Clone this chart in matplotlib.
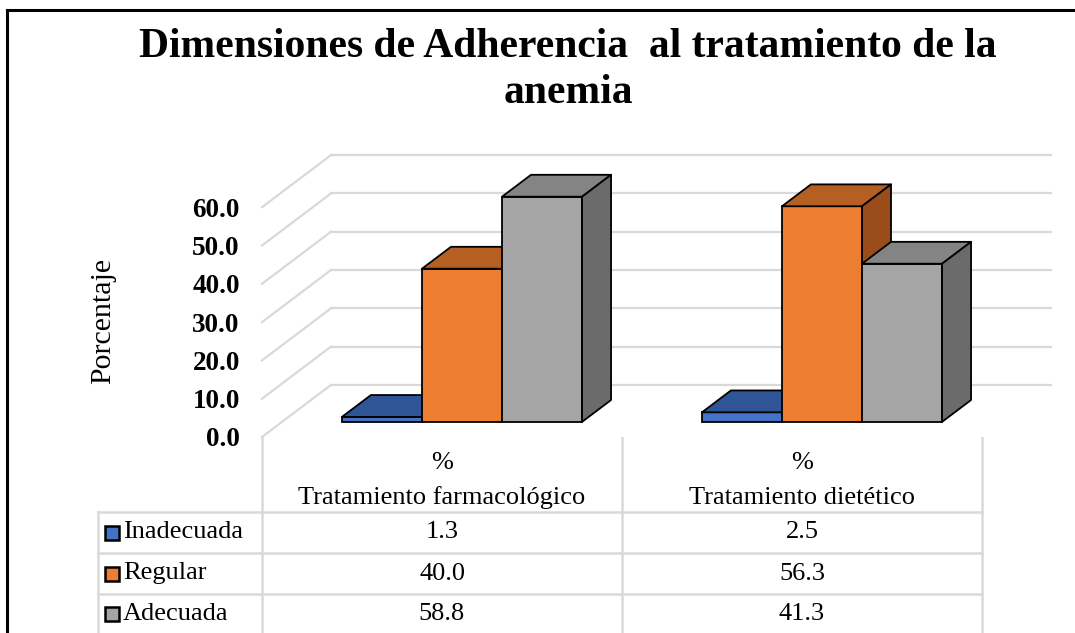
import matplotlib
matplotlib.use("Agg")
from matplotlib import pyplot as plt
from matplotlib.patches import Polygon, Rectangle
from matplotlib.lines import Line2D

plt.rcParams['font.family'] = ['Liberation Serif', 'DejaVu Serif']

categories = ['Tratamiento farmacológico', 'Tratamiento dietético']
series = ['Inadecuada', 'Regular', 'Adecuada']
inadecuada = [1.3, 2.5]
regular = [40.0, 56.3]
adecuada = [58.8, 41.3]
yticks = [0, 10, 20, 30, 40, 50, 60]

values = [inadecuada, regular, adecuada]
front_col = ['#4472c4', '#ed7d31', '#a5a5a5']
top_col = ['#2f5597', '#b55f22', '#848484']
side_col = ['#203864', '#9a4d1b', '#6b6b6b']

W, H = 1075, 633
fig = plt.figure(figsize=(W / 100, H / 100), dpi=100)

# depth of the 3d box, in data units
DX = 69 / 360
DY = 13.6
Z0, Z1 = 0.29, 0.71
px_per_unit = 3.83

ax = fig.add_axes([262 / W, (H - 437) / H, 2.2 * 360 / W, 75 * px_per_unit / H])
ax.set_xlim(0, 2.2)
ax.set_ylim(0, 75)
for s in ax.spines.values():
    s.set_visible(False)
ax.set_xticks([])
ax.set_yticks(yticks)
ax.set_yticklabels(['{:.1f}'.format(v) for v in yticks], fontsize=19.5, fontweight='bold')
ax.tick_params(axis='y', length=0, pad=16)

grid = '#d9d9d9'
for v in yticks:
    ax.plot([0, DX], [v, v + DY], color=grid, lw=1.6, clip_on=False)
    ax.plot([DX, 2 + DX], [v + DY, v + DY], color=grid, lw=1.6, clip_on=False)

bw = 0.667 / 3
for i in range(len(categories)):
    for k in range(len(series)):
        v = values[k][i]
        x0 = i + 0.5 - 1.5 * bw + k * bw + Z0 * DX
        y0 = Z0 * DY
        ddx = (Z1 - Z0) * DX
        ddy = (Z1 - Z0) * DY
        ax.bar(x0, v, bw, bottom=y0, align='edge', color=front_col[k],
               edgecolor='black', lw=1.3, zorder=3 + i * 3 + k)
        top = [(x0, y0 + v), (x0 + bw, y0 + v), (x0 + bw + ddx, y0 + v + ddy), (x0 + ddx, y0 + v + ddy)]
        side = [(x0 + bw, y0), (x0 + bw + ddx, y0 + ddy), (x0 + bw + ddx, y0 + v + ddy), (x0 + bw, y0 + v)]
        ax.add_patch(Polygon(top, closed=True, fc=top_col[k], ec='black', lw=1.3,
                             zorder=3 + i * 3 + k, joinstyle='round'))
        ax.add_patch(Polygon(side, closed=True, fc=side_col[k], ec='black', lw=1.3,
                             zorder=3 + i * 3 + k, joinstyle='round'))

fig.text(103 / W, 1 - 321 / H, 'Porcentaje', rotation=90, ha='center', va='center', fontsize=21.5)

fig.text(568 / W, 1 - 70 / H, 'Dimensiones de Adherencia  al tratamiento de la\nanemia',
         ha='center', va='center', fontsize=30, fontweight='bold', linespacing=1.3)

# data table below the chart
tab = fig.add_axes([0, 0, 1, 1], zorder=-1)
tab.set_xlim(0, W)
tab.set_ylim(H, 0)
tab.axis('off')
col_x = [98, 262, 622, 982]
row_y = [437, 512, 553, 594, H]
tc = '#d9d9d9'
for x in col_x[1:]:
    tab.add_line(Line2D([x, x], [row_y[0], H], color=tc, lw=1.8))
tab.add_line(Line2D([col_x[0], col_x[0]], [row_y[1], H], color=tc, lw=1.8))
for y in row_y[1:-1]:
    tab.add_line(Line2D([col_x[0], col_x[-1]], [y, y], color=tc, lw=1.8))

for j, cat in enumerate(categories):
    cx = (col_x[j + 1] + col_x[j + 2]) / 2
    tab.text(cx, 463, '%', ha='center', va='center', fontsize=19)
    tab.text(cx, 498, cat, ha='center', va='center', fontsize=19)
    for k in range(len(series)):
        cy = (row_y[k + 1] + row_y[k + 2]) / 2
        tab.text(cx, cy, '{:.1f}'.format(values[k][j]), ha='center', va='center', fontsize=19)

for k, name in enumerate(series):
    cy = (row_y[k + 1] + row_y[k + 2]) / 2
    tab.add_patch(Rectangle((105, cy - 7), 14, 14, fc=front_col[k], ec='black', lw=1.8))
    tab.text(123, cy, name, ha='left', va='center', fontsize=19)

# outer frame (top and left edges)
fig.add_artist(Line2D([7 / W, 1], [1 - 10 / H, 1 - 10 / H], color='black', lw=2.2))
fig.add_artist(Line2D([7 / W, 7 / W], [0, 1 - 10 / H], color='black', lw=2.2))

fig.savefig('out.png', dpi=100)
